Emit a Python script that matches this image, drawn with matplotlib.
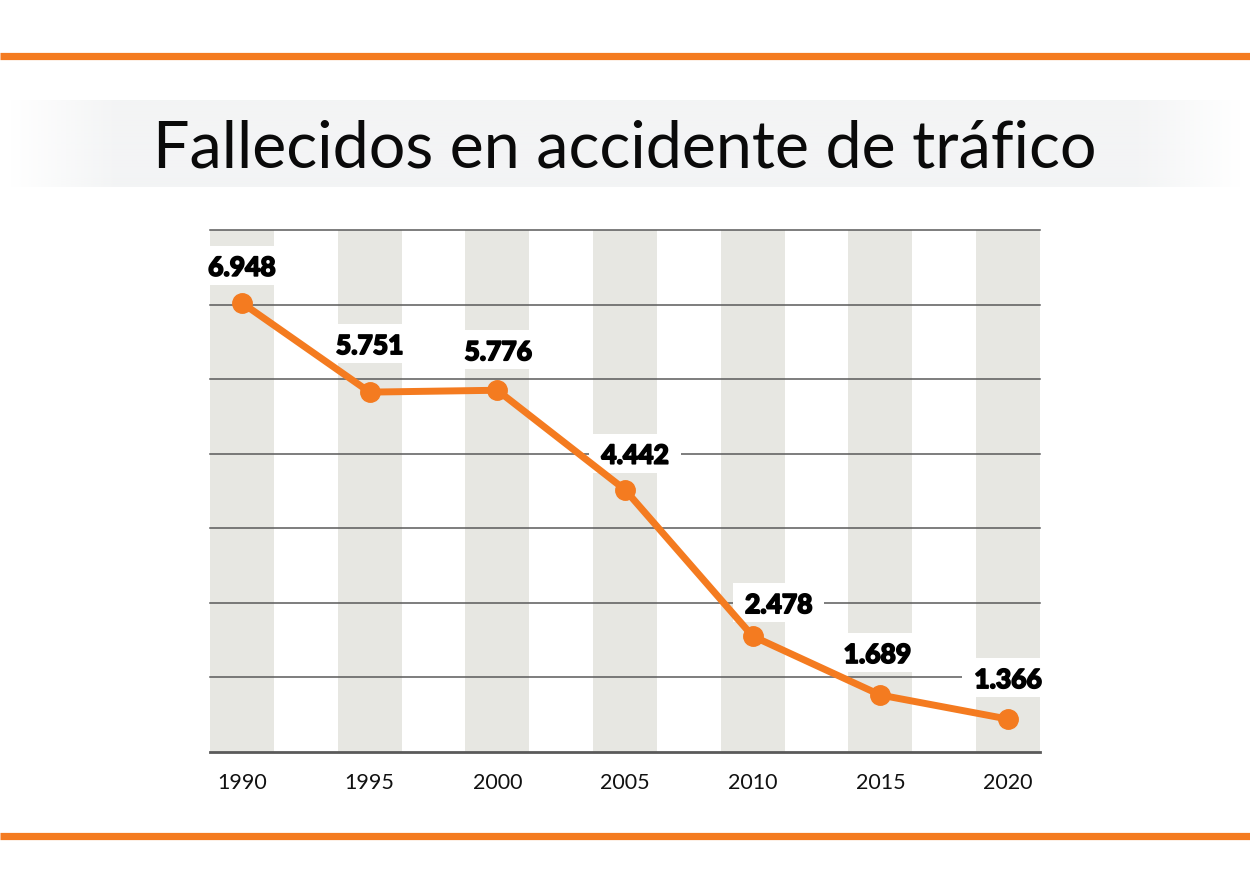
import numpy as np
import matplotlib

matplotlib.use('Agg')
import matplotlib.pyplot as plt
import matplotlib.patheffects as pe
from matplotlib.patches import Rectangle

years = [1990, 1995, 2000, 2005, 2010, 2015, 2020]
deaths = [6948, 5751, 5776, 4442, 2478, 1689, 1366]
value_labels = ['6.948', '5.751', '5.776', '4.442', '2.478', '1.689', '1.366']
year_labels = [str(y) for y in years]
title = 'Fallecidos en accidente de tráfico'

# label placement relative to each point, in pixels (dx, dy to the digit centre)
label_dx = [0, 0, 1, 10, 26, -3, 0]
label_dy = [36, 47, 39, 35, 32, 41, 40]

orange = '#f47b20'
column_gray = '#e7e7e2'
grid_gray = '#5a5a5a'
ymin, ymax = 925, 7925

plt.rcParams['font.family'] = ['Lato', 'DejaVu Sans']

fig = plt.figure(figsize=(12.5, 8.96), dpi=100)

# background decoration in pixel coordinates
bg = fig.add_axes([0, 0, 1, 1])
bg.set_xlim(0, 1250)
bg.set_ylim(896, 0)
bg.axis('off')
bg.plot([0, 1250], [56, 56], color=orange, lw=5.2, solid_capstyle='butt')
bg.plot([0, 1250], [836.5, 836.5], color=orange, lw=5.2, solid_capstyle='butt')

xs = np.arange(1250)
alpha = np.clip(np.minimum((xs - 10) / 110.0, (1240 - xs) / 110.0), 0, 1)
band = np.zeros((1, 1250, 4))
band[..., 0] = 0xf3 / 255
band[..., 1] = 0xf4 / 255
band[..., 2] = 0xf5 / 255
band[..., 3] = alpha
bg.imshow(band, extent=(0, 1250, 187, 100), aspect='auto', interpolation='bilinear')
bg.set_xlim(0, 1250)
bg.set_ylim(896, 0)

fig.text(0.5, 1 - 167 / 896, title, ha='center', va='baseline',
         fontsize=46.5, color='#0a0a0a')

ax = fig.add_axes([210 / 1250, (896 - 752) / 896, 830 / 1250, 522 / 896])
ax.set_xlim(1988.75, 2021.25)
ax.set_ylim(ymin, ymax)

ax.bar(years, ymax - ymin, bottom=ymin, width=2.5, color=column_gray, zorder=1)
for g in np.arange(ymin, ymax + 1, 1000):
    lw = 2 if g == ymin else 1.1
    ax.axhline(g, color=grid_gray, lw=lw, zorder=2, clip_on=False)

ax.plot(years, deaths, color=orange, lw=5, marker='o', ms=14,
        solid_capstyle='round', zorder=4)

texts = []
for x, y, lab, dx, dy in zip(years, deaths, value_labels, label_dx, label_dy):
    t = ax.annotate(lab, (x, y), xytext=(dx, dy - 9), textcoords='offset pixels',
                    ha='center', va='baseline', fontsize=19, fontweight='black',
                    color='#000000', zorder=5, annotation_clip=False,
                    path_effects=[pe.withStroke(linewidth=1.2, foreground='#000000')])
    texts.append(t)

ax.set_xticks(years)
ax.set_xticklabels(year_labels, fontsize=15.5, color='#111111')
ax.tick_params(axis='x', length=0, pad=15)
ax.set_yticks([])
for s in ax.spines.values():
    s.set_visible(False)

# white boxes behind the value labels
fig.canvas.draw()
renderer = fig.canvas.get_renderer()
inv = ax.transData.inverted()
for t, x, y, dx, dy in zip(texts, years, deaths, label_dx, label_dy):
    bb = t.get_window_extent(renderer)
    px, py = ax.transData.transform((x, y))
    base = py + dy - 9
    x0, y0 = inv.transform((bb.x0 - 12, base - 9))
    x1, y1 = inv.transform((bb.x1 + 12, base + 30))
    ax.add_patch(Rectangle((x0, y0), x1 - x0, y1 - y0, facecolor='white',
                           edgecolor='none', zorder=3, clip_on=False))

fig.savefig('out.png', dpi=100)
